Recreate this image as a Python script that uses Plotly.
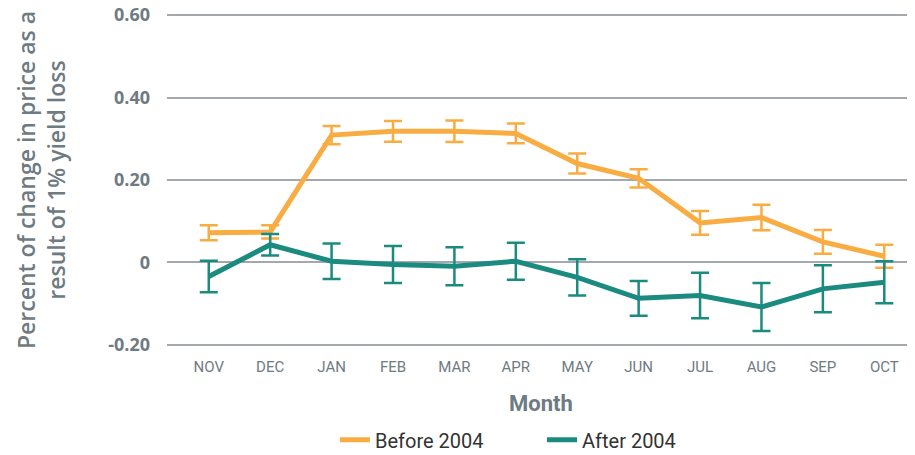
import plotly.graph_objects as go

months = ["NOV", "DEC", "JAN", "FEB", "MAR", "APR", "MAY", "JUN", "JUL", "AUG", "SEP", "OCT"]
before_2004 = [0.072, 0.074, 0.309, 0.318, 0.318, 0.313, 0.240, 0.204, 0.096, 0.109, 0.050, 0.015]
before_err = [0.018, 0.016, 0.022, 0.025, 0.026, 0.024, 0.024, 0.022, 0.029, 0.031, 0.029, 0.028]
after_2004 = [-0.034, 0.043, 0.003, -0.005, -0.009, 0.003, -0.036, -0.087, -0.080, -0.108, -0.064, -0.048]
after_err = [0.038, 0.026, 0.043, 0.045, 0.046, 0.045, 0.044, 0.042, 0.055, 0.058, 0.057, 0.051]
y_ticks = [-0.2, 0.0, 0.2, 0.4, 0.6]
y_tick_text = ["-0.20", "0", "0.20", "0.40", "0.60"]

ORANGE = "#F8AC42"
TEAL = "#1B8B80"
GREY = "#6E7B82"

fig = go.Figure()
fig.add_trace(go.Scatter(
    x=months, y=before_2004, name="Before 2004", mode="lines",
    line=dict(color=ORANGE, width=5),
    error_y=dict(type="data", array=before_err, color=ORANGE, thickness=2.5, width=9),
))
fig.add_trace(go.Scatter(
    x=months, y=after_2004, name="After 2004", mode="lines",
    line=dict(color=TEAL, width=5),
    error_y=dict(type="data", array=after_err, color=TEAL, thickness=2.5, width=9),
))

fig.update_layout(
    width=915, height=455,
    margin=dict(l=159, r=8, t=5, b=116, autoexpand=False),
    paper_bgcolor="white", plot_bgcolor="white",
    font=dict(family="Roboto", color=GREY),
    showlegend=True,
    legend=dict(orientation="h", x=0.2246, xanchor="left", y=-0.278, yanchor="middle",
                font=dict(family="Roboto", size=20, color="#333333"),
                entrywidth=162, entrywidthmode="pixels", itemwidth=30, tracegroupgap=0),
    xaxis=dict(
        type="category", range=[-0.68, 11.5], automargin=False,
        showgrid=False, zeroline=False, showline=False,
        tickfont=dict(family="Roboto", size=15, color=GREY),
        ticks="", ticklabelstandoff=9,
        title=dict(text="<b>Month</b>", font=dict(family="Roboto", size=22, color=GREY), standoff=20),
    ),
    yaxis=dict(
        range=[-0.205, 0.605], automargin=False,
        tickvals=y_ticks, ticktext=y_tick_text, ticklabeloverflow="allow",
        showgrid=True, gridcolor="#A3A8AC", gridwidth=1.5,
        zeroline=False, showline=False, ticks="",
        ticklabelstandoff=16,
        tickfont=dict(family="Open Sans", size=18, color=GREY, weight="bold"),
        title=dict(text="Percent of change in price as a<br>result of 1% yield loss",
                   font=dict(family="Open Sans", size=23, color=GREY, weight=600), standoff=36),
    ),
)

fig.write_html("out.html")
